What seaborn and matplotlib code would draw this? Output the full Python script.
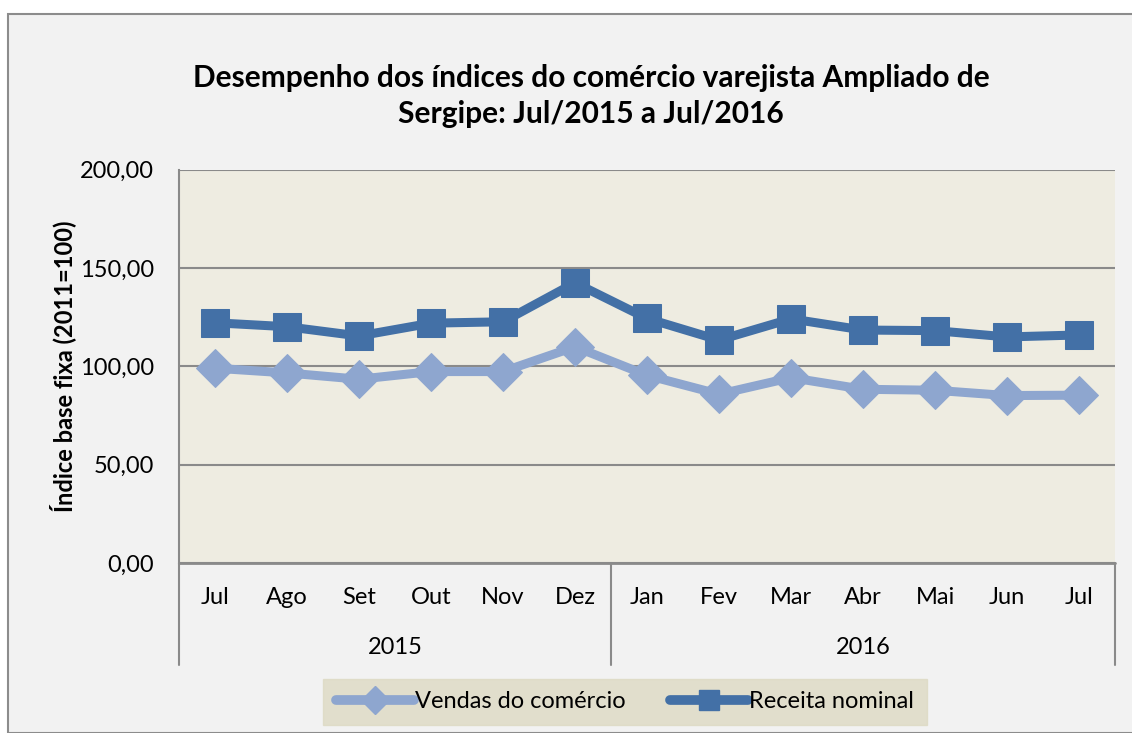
import numpy as np
import pandas as pd
import matplotlib
matplotlib.use("Agg")
import matplotlib.pyplot as plt
from matplotlib.lines import Line2D
from matplotlib.patches import Rectangle
import seaborn as sns

months = ["Jul", "Ago", "Set", "Out", "Nov", "Dez", "Jan", "Fev", "Mar", "Abr", "Mai", "Jun", "Jul"]
years = ["2015", "2016"]
year_counts = [6, 7]
vendas = [99.0, 96.6, 93.4, 97.3, 97.3, 109.9, 95.4, 85.8, 94.2, 88.3, 87.8, 85.1, 85.3]
receita = [122.1, 120.1, 115.4, 121.9, 122.6, 142.4, 124.3, 113.3, 124.1, 118.4, 118.1, 114.9, 115.9]
y_ticks = [0, 50, 100, 150, 200]
title = "Desempenho dos índices do comércio varejista Ampliado de\nSergipe: Jul/2015 a Jul/2016"
ylabel = "Índice base fixa (2011=100)"
series_names = ["Vendas do comércio", "Receita nominal"]

sns.set_theme(style="white")
plt.rcParams["font.family"] = ["Lato", "DejaVu Sans"]
for k in ["text.color", "xtick.color", "ytick.color", "axes.labelcolor"]:
    plt.rcParams[k] = "black"

W, H = 1132, 733
fig = plt.figure(figsize=(W / 100, H / 100), dpi=100)
fig.patch.set_facecolor("white")
# outer chart area
fig.patches.append(Rectangle((8 / W, 0), 1.2, (H - 14) / H, transform=fig.transFigure,
                             facecolor="#f2f2f2", edgecolor="#8c8c8c", linewidth=1.5, zorder=-10))

left, right, top, bottom = 179, 1115, 169.5, 563
ax = fig.add_axes([left / W, 1 - bottom / H, (right - left) / W, (bottom - top) / H])
ax.set_facecolor("#eeece1")

x = np.arange(len(months))
df = pd.DataFrame({"x": np.concatenate([x, x]),
                   "valor": vendas + receita,
                   "serie": [series_names[0]] * len(x) + [series_names[1]] * len(x)})

c_v = "#8ea6cf"
c_r = "#4370a6"

sns.lineplot(data=df[df.serie == series_names[0]], x="x", y="valor", ax=ax, color=c_v,
             linewidth=6.5, marker="D", markersize=19, markeredgecolor=c_v, legend=False,
             zorder=3)
sns.lineplot(data=df[df.serie == series_names[1]], x="x", y="valor", ax=ax, color=c_r,
             linewidth=6.5, marker="s", markersize=20, markeredgecolor=c_r, legend=False,
             zorder=4)

fs = 17
ax.set_xlim(-0.5, len(months) - 0.5)
ax.set_ylim(0, 200)
ax.set_yticks(y_ticks)
ax.set_yticklabels([f"{v:.2f}".replace(".", ",") for v in y_ticks], fontsize=fs)
ax.yaxis.grid(True, color="#8a8a8a", linewidth=1.5)
ax.set_axisbelow(True)
for s in ["right", "bottom", "top"]:
    ax.spines[s].set_visible(False)
ax.spines["left"].set_color("#8a8a8a")
ax.spines["left"].set_linewidth(1.5)
ax.axhline(0, color="#8a8a8a", linewidth=2, zorder=2, clip_on=False)
ax.tick_params(axis="y", length=0, pad=18)
ax.tick_params(axis="x", length=0, pad=17)
ax.set_xticks(x)
ax.set_xticklabels(months, fontsize=fs)
ax.set_xlabel("")
ax.set_ylabel(ylabel, fontsize=fs, fontweight="bold", labelpad=3)

# multi-level category separators and year labels
trans = ax.get_xaxis_transform()
sep_depth = (665 - bottom) / (bottom - top)
bounds = np.concatenate([[0], np.cumsum(year_counts)]) - 0.5
for b in bounds:
    ax.add_line(Line2D([b, b], [0, -sep_depth], transform=trans, color="#8a8a8a",
                       linewidth=1.5, clip_on=False))
year_y = -(648 - bottom) / (bottom - top)
for i, yr in enumerate(years):
    ax.text((bounds[i] + bounds[i + 1]) / 2, year_y, yr, transform=trans,
            ha="center", va="center", fontsize=fs)

fig.text(591 / W, 1 - 96 / H, title, ha="center", va="center", fontsize=21.5,
         fontweight="bold", linespacing=1.38)

handles = [Line2D([], [], color=c_v, linewidth=7, marker="D", markersize=14),
           Line2D([], [], color=c_r, linewidth=7, marker="s", markersize=15)]
leg = fig.legend(handles, series_names, loc="center", bbox_to_anchor=(625 / W, 1 - 702 / H),
                 ncol=2, frameon=True, fontsize=fs, handlelength=3.3, handletextpad=0.05,
                 columnspacing=1.9, borderpad=0.55, fancybox=False, borderaxespad=0)
leg.get_frame().set_facecolor("#ddd9c3")
leg.get_frame().set_edgecolor("#ddd9c3")

fig.savefig("out.png", dpi=100)
